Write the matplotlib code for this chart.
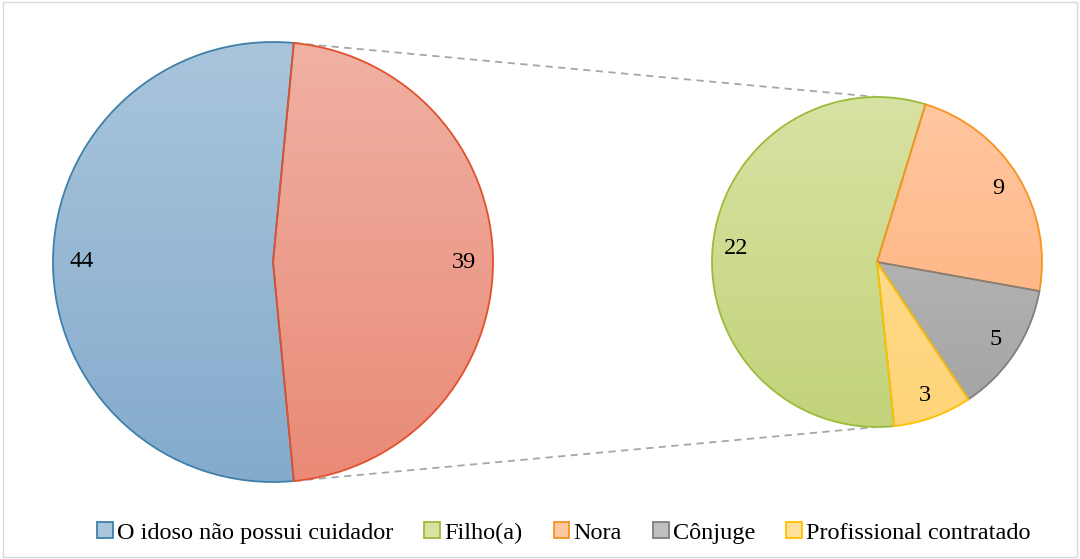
import numpy as np
import matplotlib.pyplot as plt
from matplotlib.patches import Patch, Rectangle
from matplotlib.colors import LinearSegmentedColormap

plt.rcParams['font.family'] = ['Liberation Serif', 'DejaVu Serif']

# data
main_labels = ['O idoso não possui cuidador', 'Cuidador']
main_values = [44, 39]
sub_labels = ['Filho(a)', 'Nora', 'Cônjuge', 'Profissional contratado']
sub_values = [22, 9, 5, 3]

main_fill = [('#a9c5dc', '#84abcc'), ('#f0b1a3', '#ea8a77')]
main_edge = ['#3f80aa', '#e0512c']
sub_fill = [('#d8e2a3', '#c2d37a'), ('#ffc7a0', '#ffae78'),
            ('#c0c0c0', '#a3a3a3'), ('#ffe09a', '#ffd479')]
sub_edge = ['#9bbb3b', '#f7931e', '#7f7f7f', '#ffc000']

fig = plt.figure(figsize=(10.8, 5.59), dpi=100)
ax = fig.add_axes([0, 0, 1, 1])

H = 559
c_main, r_main = (273, H - 262), 220
c_sub, r_sub = (877, H - 262), 165


def gradient_pie(values, center, radius, fills, edges, start, ldist):
    wedges, texts = ax.pie(values, center=center, radius=radius, startangle=start,
                           counterclock=False, labels=[str(v) for v in values],
                           labeldistance=ldist, frame=True,
                           wedgeprops=dict(linewidth=1.3),
                           textprops=dict(fontsize=17.5, ha='center', va='center'))
    for w, (top, bot), ec in zip(wedges, fills, edges):
        w.set_facecolor('none')
        w.set_edgecolor(ec)
        w.set_zorder(3)
        cmap = LinearSegmentedColormap.from_list('g', [top, bot])
        grad = np.linspace(0, 1, 256).reshape(-1, 1)
        im = ax.imshow(grad, cmap=cmap, aspect='auto', origin='upper',
                       extent=[center[0] - radius, center[0] + radius,
                               center[1] - radius, center[1] + radius], zorder=2)
        im.set_clip_path(w)
    for t in texts:
        t.set_zorder(4)
    return wedges


half = main_values[1] / sum(main_values) * 180
gradient_pie(main_values, c_main, r_main, main_fill, main_edge, -half, 0.87)
gradient_pie(sub_values, c_sub, r_sub, sub_fill, sub_edge, 276, 0.86)

ax.set_xlim(0, 1080)
ax.set_ylim(0, 559)
ax.set_aspect('equal')
ax.axis('off')

# connector lines
ang = np.deg2rad(half)
p_top = (c_main[0] + r_main * np.cos(ang), c_main[1] + r_main * np.sin(ang))
p_bot = (c_main[0] + r_main * np.cos(ang), c_main[1] - r_main * np.sin(ang))
ax.plot([p_top[0], c_sub[0]], [p_top[1], c_sub[1] + r_sub], ls=(0, (4, 3)),
        color='#a6a6a6', lw=1.3, zorder=1)
ax.plot([p_bot[0], c_sub[0]], [p_bot[1], c_sub[1] - r_sub], ls=(0, (4, 3)),
        color='#a6a6a6', lw=1.3, zorder=1)

# legend
leg_names = [main_labels[0]] + sub_labels
leg_fill = [main_fill[0][0]] + [f[0] for f in sub_fill]
leg_edge = [main_edge[0]] + sub_edge
handles = [Patch(facecolor=f, edgecolor=e, linewidth=1.3) for f, e in zip(leg_fill, leg_edge)]
fig.legend(handles, leg_names, loc='center', bbox_to_anchor=(0.522, 1 - 533 / 559),
           ncol=5, frameon=False, fontsize=17.5, handlelength=0.65, handleheight=0.65,
           handletextpad=0.15, columnspacing=1.3)

fig.patches.append(Rectangle((0.003, 0.003), 0.994, 0.994, transform=fig.transFigure,
                             fill=False, edgecolor='#d9d9d9', linewidth=1))

fig.savefig('out.png', dpi=100)
